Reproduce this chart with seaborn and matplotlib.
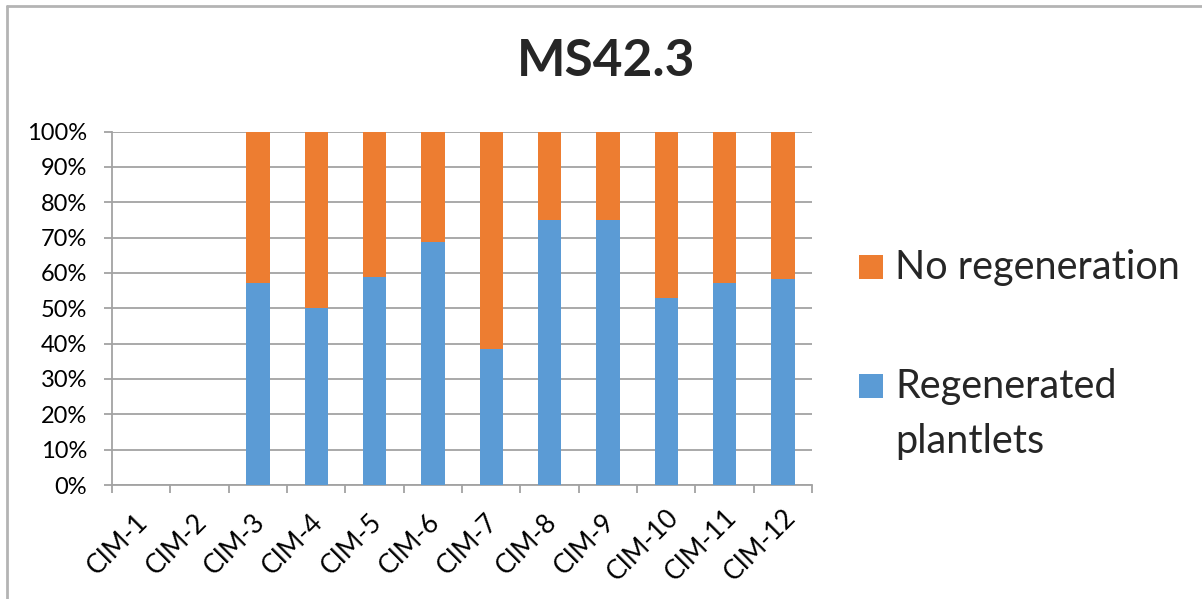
import matplotlib
matplotlib.use("Agg")
import matplotlib.pyplot as plt
from matplotlib.patches import Rectangle
from matplotlib.lines import Line2D
from matplotlib.transforms import ScaledTranslation
from matplotlib.ticker import FixedLocator, PercentFormatter
import seaborn as sns
import pandas as pd
import numpy as np

# Share of explants per callus-induction medium (%)
categories = ["CIM-1", "CIM-2", "CIM-3", "CIM-4", "CIM-5", "CIM-6",
              "CIM-7", "CIM-8", "CIM-9", "CIM-10", "CIM-11", "CIM-12"]
regenerated = [0, 0, 57.1, 50.0, 58.8, 68.75, 38.5, 75.0, 75.0, 52.9, 57.1, 58.3]
no_regeneration = [0, 0, 42.9, 50.0, 41.2, 31.25, 61.5, 25.0, 25.0, 47.1, 42.9, 41.7]

title = "MS42.3"
label_no = ["No regeneration"]
label_reg = ["Regenerated", "plantlets"]

BLUE = "#5B9BD5"
ORANGE = "#ED7D31"
GRID = "#A3A3A3"

W, H = 1202, 599

sns.set_theme(style="white")
plt.rcParams["font.family"] = ["Lato", "DejaVu Sans"]

df = pd.DataFrame({
    "medium": categories,
    "regenerated": regenerated,
    "total": np.add(regenerated, no_regeneration),
})

fig = plt.figure(figsize=(W / 100, H / 100), dpi=100)
ax = fig.add_axes([112 / W, 1 - 485 / H, 700 / W, 353.5 / H])

# stacked columns: full stack in orange, regenerated share drawn over it in blue
sns.barplot(data=df, x="medium", y="total", color=ORANGE, saturation=1,
            width=0.4, ax=ax, zorder=3, linewidth=0)
sns.barplot(data=df, x="medium", y="regenerated", color=BLUE, saturation=1,
            width=0.4, ax=ax, zorder=4, linewidth=0)

ax.set_xlim(-0.5, len(categories) - 0.5)
ax.set_ylim(0, 100)
ax.set_xlabel("")
ax.set_ylabel("")

ax.yaxis.set_major_locator(FixedLocator(np.arange(0, 101, 10)))
ax.yaxis.set_major_formatter(PercentFormatter(decimals=0))
ax.grid(axis="y", color=GRID, linewidth=1.3, zorder=0)
ax.set_axisbelow(True)

# tick marks at category boundaries; labels below each bar
ax.set_xticks(range(len(categories)))
ax.set_xticks(np.arange(-0.5, len(categories), 1), minor=True)
ax.tick_params(axis="x", which="major", length=0, pad=43, labelsize=19,
               labelcolor="#000000")
ax.tick_params(axis="x", which="minor", length=6, width=1.3, color=GRID,
               direction="out", bottom=True)
ax.tick_params(axis="y", which="major", length=6, width=1.3, color=GRID,
               direction="out", left=True, labelsize=17, labelcolor="#000000",
               pad=12)

for side in ["top", "right"]:
    ax.spines[side].set_visible(False)
for side in ["left", "bottom"]:
    ax.spines[side].set_color(GRID)
    ax.spines[side].set_linewidth(1.3)

# rotated category labels, centred a little left of each bar
ax.set_xticklabels(categories, rotation=45, ha="center", va="center",
                   rotation_mode="anchor")
shift = ScaledTranslation(-23 / 100, 0, fig.dpi_scale_trans)
for lbl in ax.get_xticklabels():
    lbl.set_transform(lbl.get_transform() + shift)

fig.text(606 / W, 1 - 76 / H, title, ha="center", va="baseline",
         fontsize=37, fontweight="bold")

# legend: colour keys with labels to the right of the plot
def legend_entry(color, lines, key_top, first_baseline, step=55):
    fig.add_artist(Rectangle((859 / W, 1 - (key_top + 24) / H), 24 / W, 24 / H,
                             transform=fig.transFigure, facecolor=color,
                             edgecolor="none"))
    for i, line in enumerate(lines):
        fig.text(895 / W, 1 - (first_baseline + i * step) / H, line,
                 ha="left", va="baseline", fontsize=28.5)

legend_entry(ORANGE, label_no, 255, 279)
legend_entry(BLUE, label_reg, 374, 398)

# chart-area border (left and top edges)
fig.add_artist(Line2D([7 / W, 7 / W], [0, 1 - 6 / H],
                      transform=fig.transFigure, color="#B4B4B4", linewidth=2))
fig.add_artist(Line2D([7 / W, 1], [1 - 6 / H, 1 - 6 / H],
                      transform=fig.transFigure, color="#B4B4B4", linewidth=2))

fig.savefig("out.png", dpi=100, facecolor="white")
